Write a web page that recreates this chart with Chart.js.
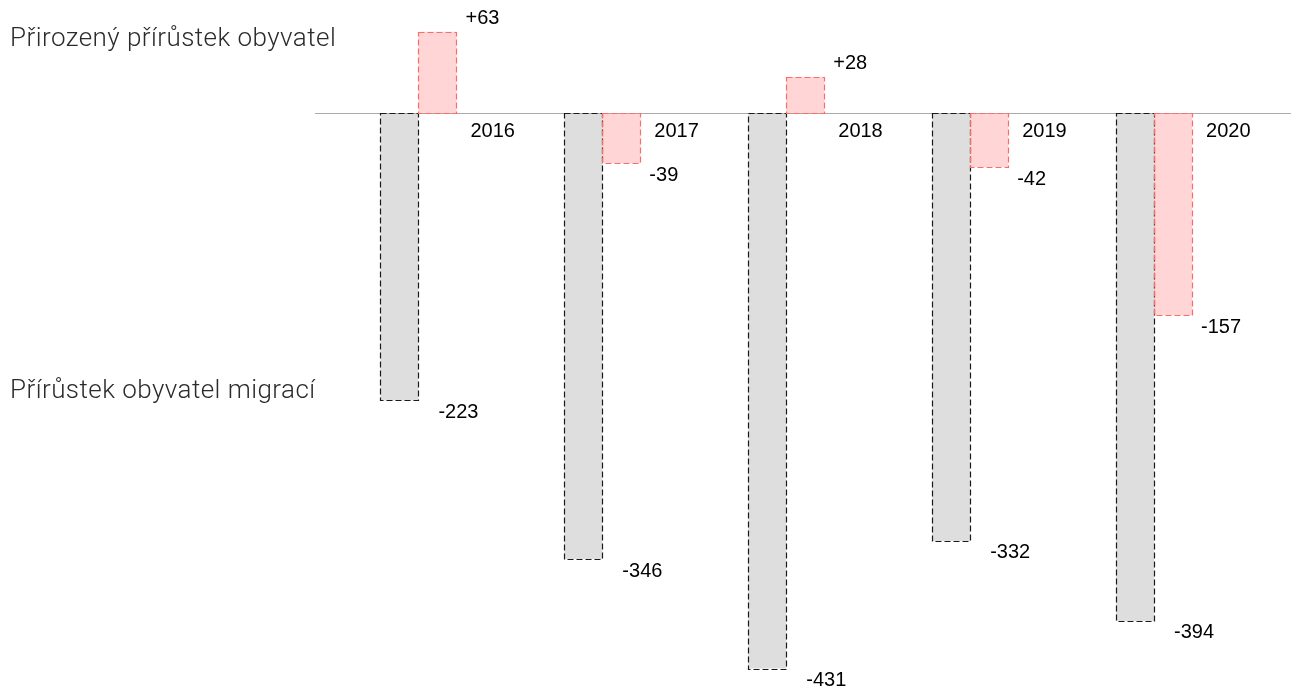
<!DOCTYPE html>
<html lang="cs">
<head>
<meta charset="utf-8">
<script src="https://cdn.jsdelivr.net/npm/chart.js@4"></script>
<style>
    body { margin: 0; background: #fff; }
    #wrap { position: relative; width: 1291px; height: 690px; }
    .popisek {
        position: absolute;
        left: 10px;
        font-family: Roboto, "Noto Sans", sans-serif;
        font-weight: 300;
        font-size: 26px;
        letter-spacing: 0.45px;
        color: #2b2b2b;
        white-space: nowrap;
        line-height: 1;
    }
</style>
</head>
<body>
<div id="wrap">
    <canvas id="graf" width="1291" height="690"></canvas>
    <div class="popisek" style="top:24px">Přirozený přírůstek obyvatel</div>
    <div class="popisek" style="top:376px">Přírůstek obyvatel migrací</div>
</div>
<script>
const roky = ['2016', '2017', '2018', '2019', '2020'];
const migrace = [-223, -346, -431, -332, -394];
const prirozeny = [63, -39, 28, -42, -157];

document.addEventListener('DOMContentLoaded', () => {
    const popisky = {
        id: 'popisky',
        afterDatasetsDraw(chart) {
            const ctx = chart.ctx;
            const y0 = chart.scales.y.getPixelForValue(0);

            // Základní čára
            ctx.save();
            ctx.strokeStyle = '#aaaaaa';
            ctx.lineWidth = 1;
            ctx.beginPath();
            ctx.moveTo(315, Math.round(y0) + 0.5);
            ctx.lineTo(chart.width, Math.round(y0) + 0.5);
            ctx.stroke();

            // Čárkované okraje sloupců
            const barvy = ['#1a1a1a', '#ff6a6a'];
            chart.data.datasets.forEach((ds, i) => {
                const meta = chart.getDatasetMeta(i);
                meta.data.forEach(bar => {
                    const l = bar.x - bar.width / 2;
                    const top = Math.min(bar.y, bar.base);
                    const h = Math.abs(bar.y - bar.base);
                    ctx.strokeStyle = barvy[i];
                    ctx.lineWidth = 1.2;
                    ctx.setLineDash([6, 3]);
                    ctx.strokeRect(Math.round(l) + 0.5, Math.round(top) + 0.5, Math.round(bar.width), Math.round(h));
                });
            });
            ctx.setLineDash([]);

            // Hodnoty a roky
            ctx.font = '20px "Liberation Sans", Arial, sans-serif';
            ctx.fillStyle = '#000';
            ctx.textAlign = 'left';
            ctx.textBaseline = 'middle';
            const offsety = [20, 9];
            chart.data.datasets.forEach((ds, i) => {
                const meta = chart.getDatasetMeta(i);
                meta.data.forEach((bar, j) => {
                    const v = ds.data[j];
                    const txt = v > 0 ? '+' + v : String(v);
                    const x = bar.x + bar.width / 2 + offsety[i];
                    const y = v > 0 ? bar.y - 13 : bar.y + 12;
                    ctx.fillText(txt, x, y);
                    if (i === 1) {
                        ctx.fillText(roky[j], bar.x + bar.width / 2 + 14, y0 + 19);
                    }
                });
            });
            ctx.restore();
        }
    };

    new Chart(document.getElementById('graf'), {
        type: 'bar',
        data: {
            labels: roky,
            datasets: [
                {
                    label: 'Přírůstek obyvatel migrací',
                    data: migrace,
                    backgroundColor: '#dedede',
                    borderWidth: 0
                },
                {
                    label: 'Přirozený přírůstek obyvatel',
                    data: prirozeny,
                    backgroundColor: '#ffd5d5',
                    borderWidth: 0
                }
            ]
        },
        options: {
            responsive: false,
            animation: false,
            layout: { padding: { left: 326.5, right: 45, top: 3.4, bottom: 9.8 } },
            datasets: {
                bar: { categoryPercentage: 0.4133, barPercentage: 1 }
            },
            plugins: {
                legend: { display: false },
                tooltip: { enabled: false }
            },
            scales: {
                x: { display: false },
                y: { display: false, min: -440, max: 85 }
            }
        },
        plugins: [popisky]
    });
});
</script>
</body>
</html>
